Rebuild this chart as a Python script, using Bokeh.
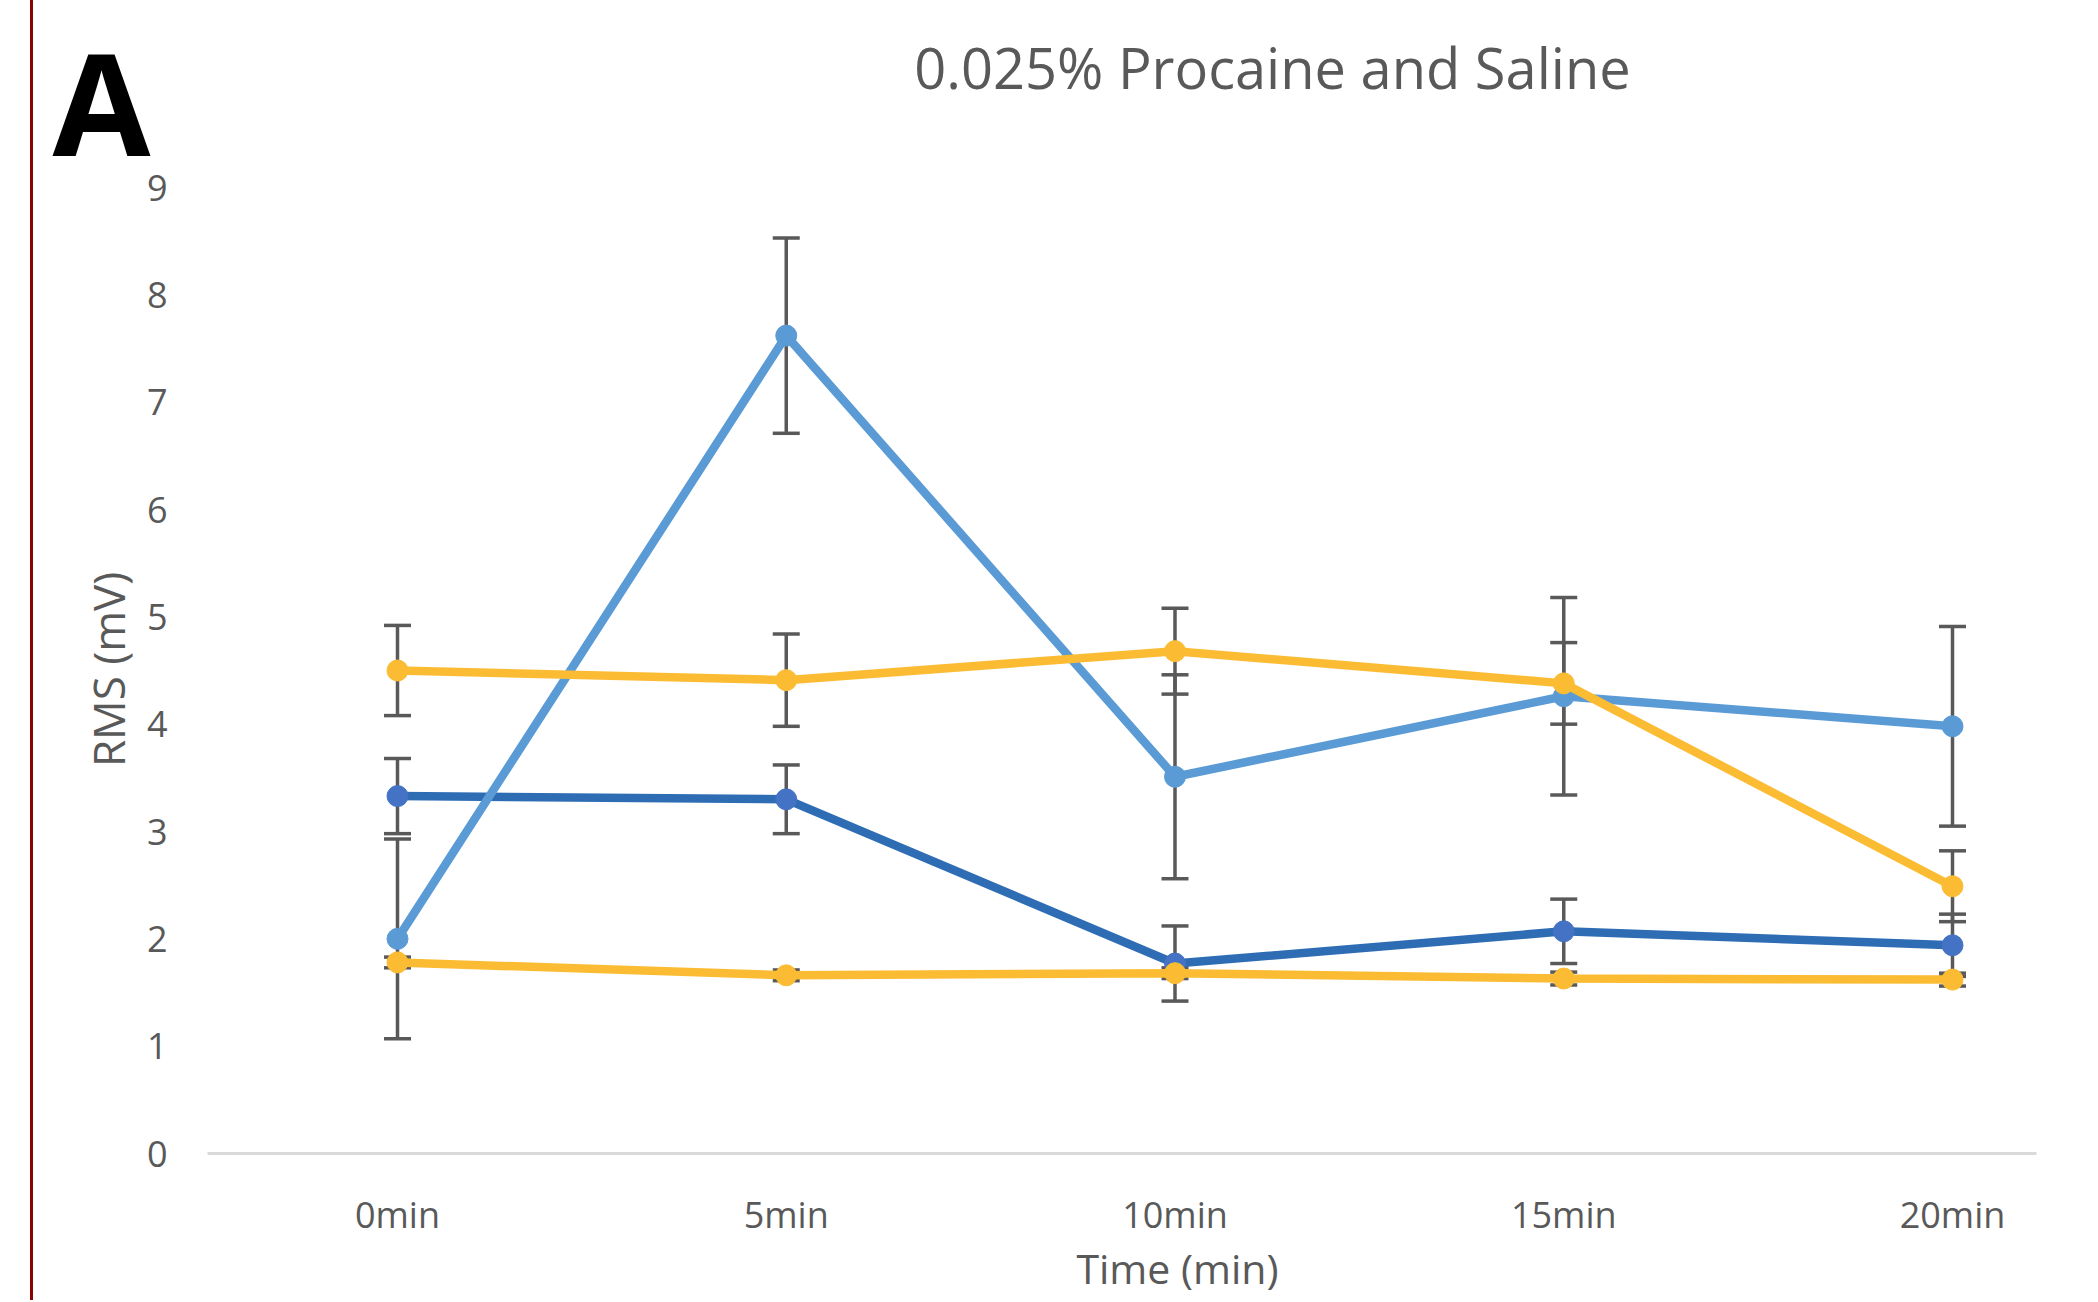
import math
from bokeh.plotting import figure
from bokeh.models import (ColumnDataSource, FixedTicker, Label, Whisker, TeeHead,
                          Range1d)
from bokeh.embed import file_html
from bokeh.resources import INLINE

# ---------------- data ----------------
time_labels = ["0min", "5min", "10min", "15min", "20min"]
x_pos = [0, 1, 2, 3, 4]

light_blue_vals = [2.00, 7.62, 3.51, 4.26, 3.98]
light_blue_err = [0.93, 0.91, 0.95, 0.92, 0.93]

dark_blue_vals = [3.33, 3.30, 1.77, 2.07, 1.94]
dark_blue_err = [0.35, 0.32, 0.35, 0.30, 0.29]

yellow_top_vals = [4.50, 4.41, 4.68, 4.38, 2.49]
yellow_top_err = [0.42, 0.43, 0.40, 0.38, 0.33]

yellow_bot_vals = [1.78, 1.66, 1.68, 1.63, 1.62]
yellow_bot_err = [0.05, 0.05, 0.05, 0.06, 0.06]

title_text = "0.025% Procaine and Saline"
y_title = "RMS (mV)"
x_title = "Time (min)"
panel_letter = "A"

# ---------------- figure ----------------
W, H = 2096, 1300
FL, FT, FB = 207, 187, 1153          # frame left / top / bottom (px)
RMS_FS = 44
FR = W - round(1.362 * RMS_FS)       # frame right (right panel holds the y title)
x_start = -(397 - FL) / 388.75
x_end = (FR - 397) / 388.75
p = figure(width=W, height=H, output_backend="svg", toolbar_location=None,
           x_range=Range1d(x_start, x_end), y_range=Range1d(0, 9))
p.min_border_left = FL
p.min_border_right = 0
p.min_border_top = FT
p.min_border_bottom = H - FB
p.outline_line_color = None
p.xgrid.visible = False
p.ygrid.visible = False
p.background_fill_color = "white"
p.border_fill_color = None
p.styles = {"background": "linear-gradient(to right, #ffffff 0px, #ffffff 30px, "
                          "#8B0000 30px, #8B0000 33px, #ffffff 33px, #ffffff 100%)"}

FONT = "Open Sans"
GRAY = "#595959"

# axes
p.xaxis.ticker = FixedTicker(ticks=x_pos)
p.xaxis.major_label_overrides = {x: lab for x, lab in zip(x_pos, time_labels)}
p.xaxis.axis_line_color = "#D9D9D9"
p.xaxis.axis_line_width = 3
p.xaxis.major_tick_line_color = None
p.xaxis.minor_tick_line_color = None
p.xaxis.major_tick_out = 0
p.xaxis.major_tick_in = 0
p.xaxis.major_label_standoff = 36
p.xaxis.major_label_text_font = FONT
p.xaxis.major_label_text_font_size = "36px"
p.xaxis.major_label_text_color = GRAY

p.yaxis.ticker = FixedTicker(ticks=list(range(0, 10)))
p.yaxis.axis_line_color = None
p.yaxis.major_tick_line_color = None
p.yaxis.minor_tick_line_color = None
p.yaxis.major_tick_out = 0
p.yaxis.major_tick_in = 0
p.yaxis.major_label_standoff = 40
p.yaxis.major_label_text_font = FONT
p.yaxis.major_label_text_font_size = "36px"
p.yaxis.major_label_text_color = GRAY

# series
series = [
    (dark_blue_vals, dark_blue_err, "#2E6DB4", "#4472C4"),
    (light_blue_vals, light_blue_err, "#5B9BD5", "#5B9BD5"),
    (yellow_top_vals, yellow_top_err, "#FBBC33", "#FBBC33"),
    (yellow_bot_vals, yellow_bot_err, "#FBBC33", "#FBBC33"),
]

for vals, errs, lc, mc in series:
    src = ColumnDataSource(dict(
        x=x_pos, y=vals,
        upper=[v + e for v, e in zip(vals, errs)],
        lower=[v - e for v, e in zip(vals, errs)],
    ))
    w = Whisker(source=src, base="x", upper="upper", lower="lower",
                dimension="height", line_color=GRAY, line_width=3.5,
                upper_head=TeeHead(size=27, line_color=GRAY, line_width=3.5),
                lower_head=TeeHead(size=27, line_color=GRAY, line_width=3.5),
                level="underlay")
    p.add_layout(w)

for vals, errs, lc, mc in series:
    src = ColumnDataSource(dict(x=x_pos, y=vals))
    p.line("x", "y", source=src, line_color=lc, line_width=8.5)
    p.scatter("x", "y", source=src, size=21, fill_color=mc, line_color=mc)

# ---- texts placed in side panels (side-panel annotations are not clipped) ----
# title (above panel; slot spans the frame width, bottom at frame top)
p.add_layout(Label(x=1272 - FL, y=FT - 66, x_units="screen", y_units="screen",
                   text=title_text, text_font=FONT, text_font_size="56px",
                   text_color=GRAY, text_align="center", text_baseline="middle"),
             "above")
# y-axis title (right panel slot; positioned back at the left of the canvas)
p.add_layout(Label(x=107 - FR, y=FB - 669, x_units="screen", y_units="screen",
                   text=y_title, text_font=FONT, text_font_size=f"{RMS_FS}px",
                   text_color=GRAY, angle=math.pi / 2,
                   text_align="center", text_baseline="middle"), "right")
# panel letter (left panel)
p.add_layout(Label(x=7, y=FB - 100, x_units="screen", y_units="screen",
                   text=panel_letter, text_font=FONT, text_font_size="142px",
                   text_font_style="bold", text_color="black",
                   text_align="left", text_baseline="middle"), "left")
# x-axis title (below panel)
p.add_layout(Label(x=1177 - FL, y=30, x_units="screen", y_units="screen",
                   text=x_title, text_font=FONT, text_font_size="41px",
                   text_color=GRAY, text_align="center", text_baseline="middle"),
             "below")

open("out.html", "w").write(file_html(p, INLINE))
